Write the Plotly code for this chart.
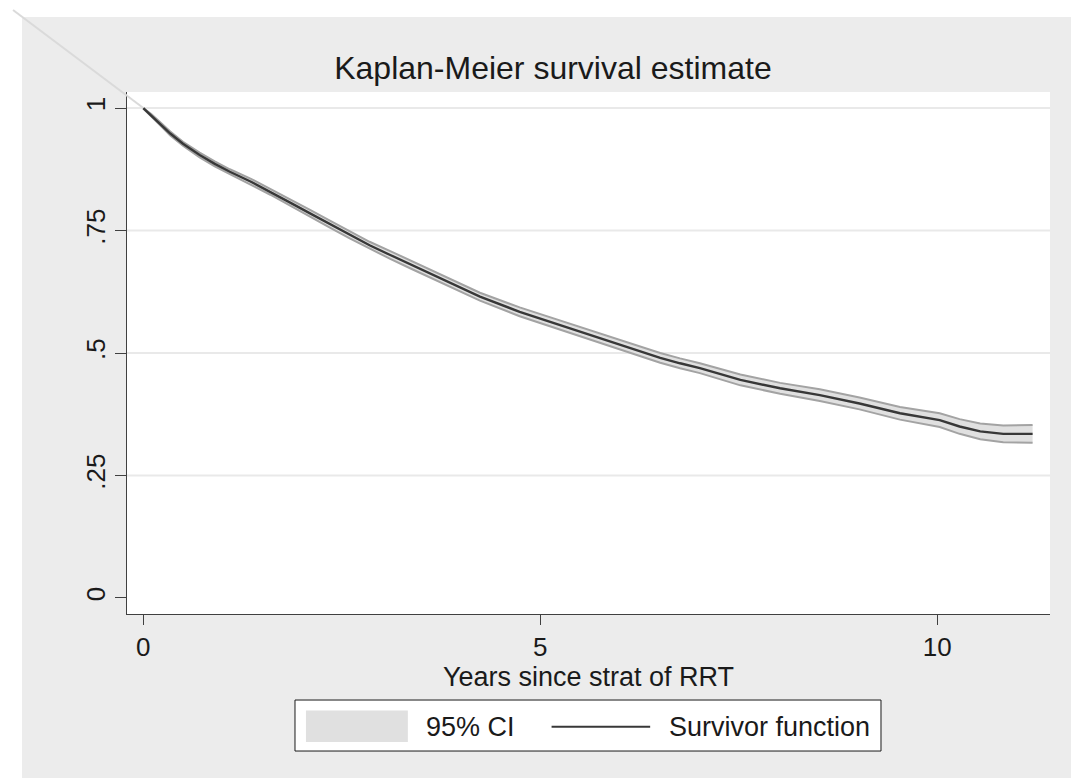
import plotly.graph_objects as go

# ---- data ----
time = [0, 0.1, 0.2, 0.34, 0.5, 0.71, 0.9, 1.09, 1.35, 1.6, 1.85, 2.1, 2.35, 2.6, 2.85,
        3.11, 3.36, 3.74, 4.24, 4.74, 5.25, 5.75, 6.26, 6.51, 6.76, 7.01, 7.52, 8.02,
        8.52, 9.02, 9.53, 10.03, 10.28, 10.54, 10.83, 11.2]
surv = [1.000, 0.985, 0.970, 0.948, 0.927, 0.904, 0.886, 0.870, 0.850, 0.829, 0.807,
        0.785, 0.763, 0.741, 0.720, 0.700, 0.681, 0.652, 0.615, 0.584, 0.557, 0.530,
        0.503, 0.490, 0.479, 0.469, 0.445, 0.428, 0.414, 0.397, 0.377, 0.363, 0.350,
        0.340, 0.335, 0.335]
ci_lower = [0.999, 0.982, 0.967, 0.944, 0.923, 0.899, 0.881, 0.865, 0.844, 0.823, 0.801,
            0.778, 0.756, 0.734, 0.713, 0.692, 0.673, 0.644, 0.607, 0.575, 0.548, 0.521,
            0.494, 0.480, 0.469, 0.459, 0.434, 0.417, 0.402, 0.385, 0.364, 0.349, 0.335,
            0.324, 0.318, 0.317]
ci_upper = [1.000, 0.988, 0.973, 0.952, 0.931, 0.909, 0.891, 0.875, 0.856, 0.835, 0.813,
            0.792, 0.770, 0.748, 0.727, 0.708, 0.689, 0.660, 0.623, 0.593, 0.566, 0.539,
            0.512, 0.500, 0.489, 0.479, 0.456, 0.439, 0.426, 0.409, 0.390, 0.377, 0.365,
            0.356, 0.352, 0.353]

y_tickvals = [0, 0.25, 0.5, 0.75, 1]
y_ticktext = ["0", ".25", ".5", ".75", "1"]
x_tickvals = [0, 5, 10]
x_ticktext = ["0", "5", "10"]
grid_vals = [0.25, 0.5, 0.75, 1]

title_text = "Kaplan-Meier survival estimate"
x_title = "Years since strat of RRT"
legend_labels = ["95% CI", "Survivor function"]

FONT = "Liberation Sans, Arial, sans-serif"
TXT = "#1a1a1a"
BAND_FILL = "#e0e0e0"
BAND_EDGE = "#a3a3a3"
LINE_COL = "#383838"

fig = go.Figure()
fig.add_trace(go.Scatter(x=time, y=ci_lower, mode="lines",
                         line=dict(color=BAND_EDGE, width=2), showlegend=False,
                         hoverinfo="skip"))
fig.add_trace(go.Scatter(x=time, y=ci_upper, mode="lines", fill="tonexty",
                         fillcolor=BAND_FILL, line=dict(color=BAND_EDGE, width=2),
                         showlegend=False, name=legend_labels[0]))
fig.add_trace(go.Scatter(x=time, y=surv, mode="lines",
                         line=dict(color=LINE_COL, width=2.4), showlegend=False,
                         name=legend_labels[1]))

shapes = []
# outer graph region (grey)
shapes.append(dict(type="rect", xref="paper", yref="paper", x0=-0.1138, x1=1.06,
                   y0=-0.36, y1=1.1437, fillcolor="#ececec", line=dict(width=0),
                   layer="below"))
# plot region (white)
shapes.append(dict(type="rect", xref="paper", yref="paper", x0=0, x1=1, y0=0, y1=1,
                   fillcolor="white", line=dict(width=0), layer="below"))
# horizontal grid lines
for g in grid_vals:
    shapes.append(dict(type="line", xref="paper", yref="y", x0=0, x1=1, y0=g, y1=g,
                       line=dict(color="#e9e9e9", width=2), layer="below"))
# faint diagonal artefact in the top-left corner
shapes.append(dict(type="line", xref="paper", yref="paper", x0=-0.1235, y0=1.1571,
                   x1=0.0177, y1=0.9693, line=dict(color="#dadada", width=2),
                   layer="above"))
# legend box
shapes.append(dict(type="rect", xref="paper", yref="paper", x0=0.1820, x1=0.8169,
                   y0=-0.2625, y1=-0.1648, fillcolor="white",
                   line=dict(color="#1a1a1a", width=1)))
shapes.append(dict(type="rect", xref="paper", yref="paper", x0=0.1939, x1=0.3043,
                   y0=-0.2452, y1=-0.1847, fillcolor=BAND_FILL, line=dict(width=0)))
shapes.append(dict(type="line", xref="paper", yref="paper", x0=0.4600, x1=0.5668,
                   y0=-0.2158, y1=-0.2158, line=dict(color=LINE_COL, width=2)))

annotations = [
    dict(text=legend_labels[0], xref="paper", yref="paper", x=0.3214, y=-0.2158,
         xanchor="left", yanchor="middle", showarrow=False,
         font=dict(family=FONT, size=27, color=TXT)),
    dict(text=legend_labels[1], xref="paper", yref="paper", x=0.5851, y=-0.2158,
         xanchor="left", yanchor="middle", showarrow=False,
         font=dict(family=FONT, size=27, color=TXT)),
]

# the page body adds an 8px offset, so the figure is 8px smaller and margins shifted
fig.update_layout(
    width=1071, height=770,
    margin=dict(l=119, r=29, t=84, b=164),
    paper_bgcolor="white", plot_bgcolor="rgba(0,0,0,0)",
    title=dict(text=title_text, x=0.4615, xref="paper", xanchor="center",
               y=1 - 60 / 770, yref="container", yanchor="middle",
               font=dict(family=FONT, size=32, color=TXT)),
    shapes=shapes, annotations=annotations, showlegend=False,
    font=dict(family=FONT, color=TXT),
)
fig.update_xaxes(range=[-0.205, 11.419], tickvals=x_tickvals, ticktext=x_ticktext,
                 showgrid=False, zeroline=False, showline=True, linecolor="#404040",
                 linewidth=1, ticks="outside", ticklen=10, tickcolor="#404040",
                 tickfont=dict(family=FONT, size=26, color=TXT), ticklabelstandoff=0,
                 title=dict(text=x_title, font=dict(family=FONT, size=27, color=TXT),
                            standoff=0))
fig.update_yaxes(range=[-0.0327, 1.0327], tickvals=y_tickvals, ticktext=y_ticktext,
                 showgrid=False, zeroline=False, showline=True, linecolor="#404040",
                 linewidth=1, ticks="outside", ticklen=11, tickcolor="#404040",
                 tickangle=-90, tickfont=dict(family=FONT, size=26, color=TXT),
                 ticklabelstandoff=0)

fig.write_html("out.html")
